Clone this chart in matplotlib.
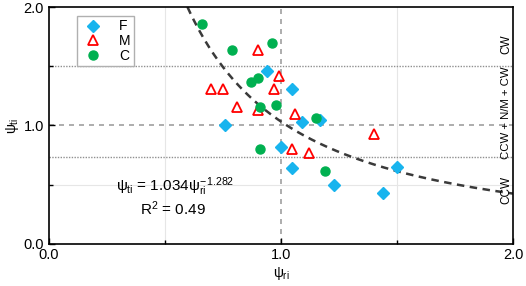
import numpy as np
import matplotlib
matplotlib.use("Agg")
import matplotlib.pyplot as plt

plt.rcParams['font.family'] = ['Liberation Sans', 'DejaVu Sans']
plt.rcParams['mathtext.fontset'] = 'custom'
plt.rcParams['mathtext.rm'] = 'Liberation Sans'
plt.rcParams['mathtext.it'] = 'Liberation Sans'

# data (psi_ri, psi_ti)
f_x = [0.76, 0.94, 1.05, 1.09, 1.17, 1.00, 1.05, 1.23, 1.44, 1.50]
f_y = [1.00, 1.46, 1.31, 1.03, 1.05, 0.82, 0.64, 0.50, 0.43, 0.65]

m_x = [0.70, 0.75, 0.81, 0.90, 0.90, 0.97, 0.99, 1.06, 1.05, 1.12, 1.40]
m_y = [1.31, 1.31, 1.16, 1.64, 1.13, 1.31, 1.42, 1.10, 0.80, 0.77, 0.93]

c_x = [0.66, 0.79, 0.96, 0.87, 0.90, 0.91, 0.98, 1.15, 0.91, 1.19]
c_y = [1.86, 1.64, 1.70, 1.37, 1.40, 1.16, 1.17, 1.06, 0.80, 0.62]

# fit  psi_ti = a * psi_ri^b
fit_a = 1.034
fit_b = -1.282
r2 = 0.49

# regime limits
upper_limit = 1.5
lower_limit = 0.73

fig = plt.figure(figsize=(5.26, 2.86), dpi=100)
ax = fig.add_axes([0.0926, 0.147, 0.8826, 0.8285])

# grid and reference lines
for v in [0.5, 1.5]:
    ax.axvline(v, color='#e6e6e6', lw=0.8, zorder=0)
ax.axhline(0.5, color='#e6e6e6', lw=0.8, zorder=0)
ax.axvline(1.0, color='#a0a0a0', lw=1.2, ls=(0, (3, 3)), zorder=1)
ax.axhline(1.0, color='#a0a0a0', lw=1.2, ls=(0, (3, 3)), zorder=1)
ax.axhline(upper_limit, color='#909090', lw=1.0, ls=(0, (1, 1)), zorder=1)
ax.axhline(lower_limit, color='#909090', lw=1.0, ls=(0, (1, 1)), zorder=1)

# fitted curve
x0 = (2.0 / fit_a) ** (1 / fit_b)
xs = np.linspace(x0, 2.0, 200)
ax.plot(xs, fit_a * xs ** fit_b, color='#3a3a3a', lw=1.8, ls=(0, (3, 2.2)), zorder=2)

ax.plot(f_x, f_y, 'D', color='#18b4ee', ms=6, mec='#18b4ee', ls='none', label='F', zorder=3)
ax.plot(m_x, m_y, '^', mfc='none', mec='#ff0000', ms=7.5, mew=1.3, ls='none', label='M', zorder=3)
ax.plot(c_x, c_y, 'o', color='#00b050', ms=6.5, ls='none', label='C', zorder=3)

ax.text(0.545, 0.48, r'$\psi_{ti}$ = 1.034$\psi_{ri}^{-1.282}$', ha='center', va='center', fontsize=11)
ax.text(0.535, 0.30, r'R$^2$ = 0.49', ha='center', va='center', fontsize=11)

ax.text(1.972, 1.69, 'CW', rotation=90, ha='center', va='center', fontsize=8.5)
ax.text(1.972, 1.11, 'CCW + N/M + CW', rotation=90, ha='center', va='center', fontsize=8.2)
ax.text(1.972, 0.455, 'CCW', rotation=90, ha='center', va='center', fontsize=8.5)

ax.set_xlim(0, 2)
ax.set_ylim(0, 2)
ax.set_xticks([0, 1, 2])
ax.set_yticks([0, 1, 2])
ax.set_xticklabels(['0.0', '1.0', '2.0'])
ax.set_yticklabels(['0.0', '1.0', '2.0'])
ax.set_xticks([0.5, 1.5], minor=True)
ax.set_yticks([0.5, 1.5], minor=True)
ax.tick_params(direction='in', length=4, width=1, labelsize=10.5)
ax.tick_params(which='minor', direction='in', length=3, width=1)
ax.tick_params(axis='x', pad=3)
for s in ax.spines.values():
    s.set_linewidth(1.2)

ax.set_xlabel(r'$\psi_{ri}$', fontsize=10, labelpad=2)
ax.set_ylabel(r'$\psi_{ti}$', fontsize=10, labelpad=2)

leg = ax.legend(loc='upper left', bbox_to_anchor=(0.06, 0.962), fontsize=10,
                fancybox=False, edgecolor='#b0b0b0', framealpha=1,
                handletextpad=1.0, borderpad=0.25, labelspacing=0.05,
                handlelength=1.8, borderaxespad=0)
leg.get_frame().set_linewidth(1.0)

fig.savefig('out.png', dpi=100)
